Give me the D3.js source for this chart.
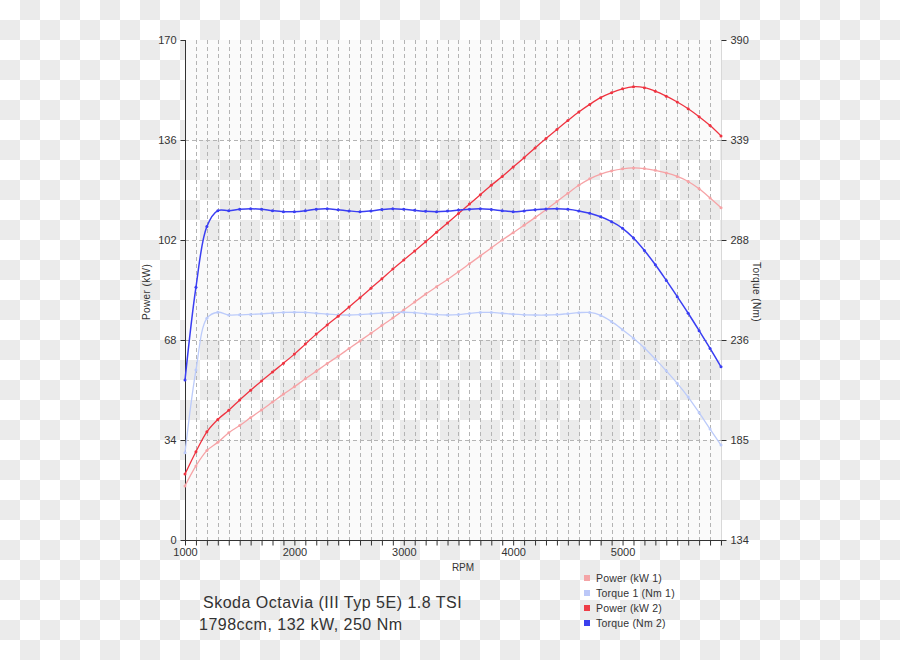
<!DOCTYPE html>
<html>
<head>
<meta charset="utf-8">
<script src="https://cdn.jsdelivr.net/npm/d3@7"></script>
<style>
  html, body { margin: 0; padding: 0; background: #fff; }
  svg text { font-family: "Liberation Sans", Arial, sans-serif; fill: #333; }
</style>
</head>
<body>
<svg id="chart" width="900" height="660"></svg>
<script>
// ========= Data =========
const rpm = [1000, 1100, 1200, 1300, 1400, 1500, 1600, 1700, 1800, 1900,
             2000, 2100, 2200, 2300, 2400, 2500, 2600, 2700, 2800, 2900,
             3000, 3100, 3200, 3300, 3400, 3500, 3600, 3700, 3800, 3900,
             4000, 4100, 4200, 4300, 4400, 4500, 4600, 4700, 4800, 4900,
             5000, 5100, 5200, 5300, 5400, 5500, 5600, 5700, 5800, 5900];

const power1 = [18.4, 25.2, 30.4, 33.2, 36.5, 38.9, 41.6, 44.2, 46.9, 49.6,
                52.1, 54.8, 57.4, 60.0, 62.5, 65.1, 67.7, 70.3, 72.9, 75.5,
                78.2, 80.9, 83.6, 86.1, 88.6, 91.2, 93.9, 96.6, 99.3, 102.0,
                104.5, 107.0, 109.6, 112.3, 115.1, 117.9, 120.6, 122.8, 124.4, 125.5,
                126.2, 126.5, 126.3, 125.7, 124.8, 123.6, 121.9, 119.4, 116.3, 113.0];

const torque1 = [178.7, 221.0, 247.5, 250.6, 249.2, 249.3, 249.5, 249.8, 250.2, 250.5,
                 250.6, 250.5, 250.1, 249.6, 249.3, 249.2, 249.4, 249.8, 250.2, 250.5,
                 250.6, 250.4, 249.9, 249.4, 249.2, 249.4, 250.0, 250.5, 250.5, 250.1,
                 249.6, 249.3, 249.2, 249.2, 249.4, 249.9, 250.4, 250.5, 249.0, 245.8,
                 241.7, 237.3, 232.3, 226.6, 220.6, 214.2, 207.2, 199.2, 190.8, 182.6];

const power2 = [22.4, 30.0, 36.8, 41.0, 44.1, 47.6, 50.9, 54.1, 57.1, 60.1,
                63.2, 66.6, 70.0, 73.1, 76.1, 79.2, 82.4, 85.6, 88.8, 92.1,
                95.2, 98.3, 101.4, 104.6, 107.8, 111.0, 114.2, 117.4, 120.6, 123.6,
                126.8, 130.0, 133.3, 136.5, 139.6, 142.6, 145.5, 148.1, 150.4, 152.1,
                153.4, 154.1, 153.8, 152.6, 150.9, 148.9, 146.6, 143.9, 140.9, 137.4];

const torque2 = [215.9, 263.4, 294.5, 302.6, 302.6, 303.3, 303.6, 303.3, 302.6, 302.1,
                 302.1, 302.6, 303.4, 303.6, 303.1, 302.5, 302.1, 302.5, 303.2, 303.6,
                 303.3, 302.8, 302.3, 302.1, 302.4, 302.9, 303.4, 303.6, 303.2, 302.6,
                 302.1, 302.5, 303.1, 303.5, 303.6, 303.3, 302.5, 301.3, 299.5, 297.0,
                 293.6, 288.6, 282.2, 274.9, 266.9, 258.6, 250.1, 241.2, 232.1, 222.7];

const leftTicks = [0, 34, 68, 102, 136, 170];
const rightTicks = [134, 185.2, 236.4, 287.6, 338.8, 390];
const xLabelTicks = [1000, 2000, 3000, 4000, 5000];

const seriesNames = ['Power (kW 1)', 'Torque 1 (Nm 1)', 'Power (kW 2)', 'Torque (Nm 2)'];
const titleLines = ['Skoda Octavia (III Typ 5E) 1.8 TSI', '1798ccm, 132 kW, 250 Nm'];

// ========= Setup =========
const svg = d3.select('#chart');
const plot = {left: 185, right: 721, top: 40, bottom: 540};

const x = d3.scaleLinear().domain([1000, 5900]).range([plot.left, plot.right]);
const yL = d3.scaleLinear().domain([0, 170]).range([plot.bottom, plot.top]);
const yR = d3.scaleLinear().domain([134, 390]).range([plot.bottom, plot.top]);

// checkerboard background
const defs = svg.append('defs');
const pat = defs.append('pattern')
  .attr('id', 'checker')
  .attr('patternUnits', 'userSpaceOnUse')
  .attr('width', 40).attr('height', 40);
pat.append('rect').attr('width', 40).attr('height', 40).attr('fill', '#ffffff');
pat.append('rect').attr('x', 20).attr('y', 0).attr('width', 20).attr('height', 20).attr('fill', '#ebebeb');
pat.append('rect').attr('x', 0).attr('y', 20).attr('width', 20).attr('height', 20).attr('fill', '#ebebeb');

svg.append('rect').attr('width', 900).attr('height', 660).attr('fill', 'url(#checker)');

// alternating bands in plot area
const bands = [[0, 34], [68, 102], [136, 170]];
svg.append('g').selectAll('rect')
  .data(bands)
  .enter().append('rect')
  .attr('x', plot.left)
  .attr('y', d => yL(d[1]))
  .attr('width', plot.right - plot.left)
  .attr('height', d => yL(d[0]) - yL(d[1]))
  .attr('fill', '#fafafa');

// ========= Grid =========
const grid = svg.append('g')
  .attr('stroke', '#b4b4b4')
  .attr('stroke-dasharray', '4,3')
  .attr('stroke-width', 1);

grid.selectAll('.vgrid')
  .data(rpm.filter(r => r > 1000))
  .enter().append('line')
  .attr('x1', d => Math.round(x(d)) + 0.5)
  .attr('x2', d => Math.round(x(d)) + 0.5)
  .attr('y1', plot.top)
  .attr('y2', plot.bottom);

grid.selectAll('.hgrid')
  .data(leftTicks.filter(t => t > 0 && t < 170))
  .enter().append('line')
  .attr('x1', plot.left)
  .attr('x2', plot.right)
  .attr('y1', d => Math.round(yL(d)) + 0.5)
  .attr('y2', d => Math.round(yL(d)) + 0.5);

// right axis pale line
svg.append('line')
  .attr('x1', plot.right + 0.5).attr('x2', plot.right + 0.5)
  .attr('y1', plot.top).attr('y2', plot.bottom)
  .attr('stroke', '#d8d8d8');

// ========= Axes =========
const fmt = d3.format('.0f');

const axL = svg.append('g')
  .attr('transform', `translate(${plot.left + 0.5},0)`)
  .call(d3.axisLeft(yL).tickValues(leftTicks).tickSize(5).tickPadding(4).tickFormat(fmt));
const axR = svg.append('g')
  .attr('transform', `translate(${plot.right + 0.5},0)`)
  .call(d3.axisRight(yR).tickValues(rightTicks).tickSize(5).tickPadding(4).tickFormat(fmt));
const axB = svg.append('g')
  .attr('transform', `translate(0,${plot.bottom + 0.5})`)
  .call(d3.axisBottom(x).tickValues(rpm).tickSize(5).tickPadding(3)
    .tickFormat(d => xLabelTicks.includes(d) ? d : ''));

[axL, axR, axB].forEach(a => {
  a.selectAll('text').style('font-size', '11px').attr('fill', '#333');
  a.selectAll('line').attr('stroke', '#333');
  a.select('.domain').remove();
});

svg.append('line')
  .attr('x1', plot.left + 0.5).attr('x2', plot.left + 0.5)
  .attr('y1', plot.top).attr('y2', plot.bottom)
  .attr('stroke', '#333');
svg.append('line')
  .attr('x1', plot.left).attr('x2', plot.right + 1)
  .attr('y1', plot.bottom + 0.5).attr('y2', plot.bottom + 0.5)
  .attr('stroke', '#333');

// axis titles
svg.append('text')
  .attr('transform', 'translate(150,292) rotate(-90)')
  .attr('text-anchor', 'middle')
  .style('font-size', '10px')
  .style('letter-spacing', '0.4px')
  .text('Power (kW)');
svg.append('text')
  .attr('transform', 'translate(753,292) rotate(90)')
  .attr('text-anchor', 'middle')
  .style('font-size', '10px')
  .style('letter-spacing', '0.4px')
  .text('Torque (Nm)');
svg.append('text')
  .attr('x', 463).attr('y', 571)
  .attr('text-anchor', 'middle')
  .style('font-size', '10px')
  .text('RPM');

// ========= Lines =========
const series = [
  {name: seriesNames[0], values: power1, y: yL, color: '#f6a3a6', legend: '#f4a4a6', w: 1.3},
  {name: seriesNames[1], values: torque1, y: yR, color: '#bccbfa', legend: '#bcc8f8', w: 1.3},
  {name: seriesNames[2], values: power2, y: yL, color: '#ef3340', legend: '#ee3d47', w: 1.3},
  {name: seriesNames[3], values: torque2, y: yR, color: '#3a3ef3', legend: '#3b40ee', w: 1.5}
];

series.forEach(s => {
  const pts = rpm.map((r, i) => [r, s.values[i]]);
  const line = d3.line()
    .x(d => x(d[0]))
    .y(d => s.y(d[1]))
    .curve(d3.curveCatmullRom.alpha(0.5));

  svg.append('path')
    .datum(pts)
    .attr('fill', 'none')
    .attr('stroke', s.color)
    .attr('stroke-width', s.w)
    .attr('d', line);

  svg.append('g').selectAll('circle')
    .data(pts)
    .enter().append('circle')
    .attr('cx', d => x(d[0]))
    .attr('cy', d => s.y(d[1]))
    .attr('r', 1.5)
    .attr('fill', s.color);
});

// ========= Legend =========
const legend = svg.append('g').attr('transform', 'translate(584,578)');
const li = legend.selectAll('g')
  .data(series)
  .enter().append('g')
  .attr('transform', (d, i) => `translate(0,${i * 15})`);
li.append('rect')
  .attr('x', 0).attr('y', -3)
  .attr('width', 6).attr('height', 6)
  .attr('fill', d => d.legend);
li.append('text')
  .attr('x', 12).attr('y', 4)
  .style('font-size', '10.5px')
  .style('letter-spacing', '0.2px')
  .text(d => d.name);

// ========= Title =========
svg.append('g').selectAll('text')
  .data(titleLines)
  .enter().append('text')
  .attr('x', (d, i) => i === 0 ? 203 : 199)
  .attr('y', (d, i) => 608 + i * 22)
  .style('font-size', '16px')
  .style('letter-spacing', '0.5px')
  .text(d => d);
</script>
</body>
</html>
